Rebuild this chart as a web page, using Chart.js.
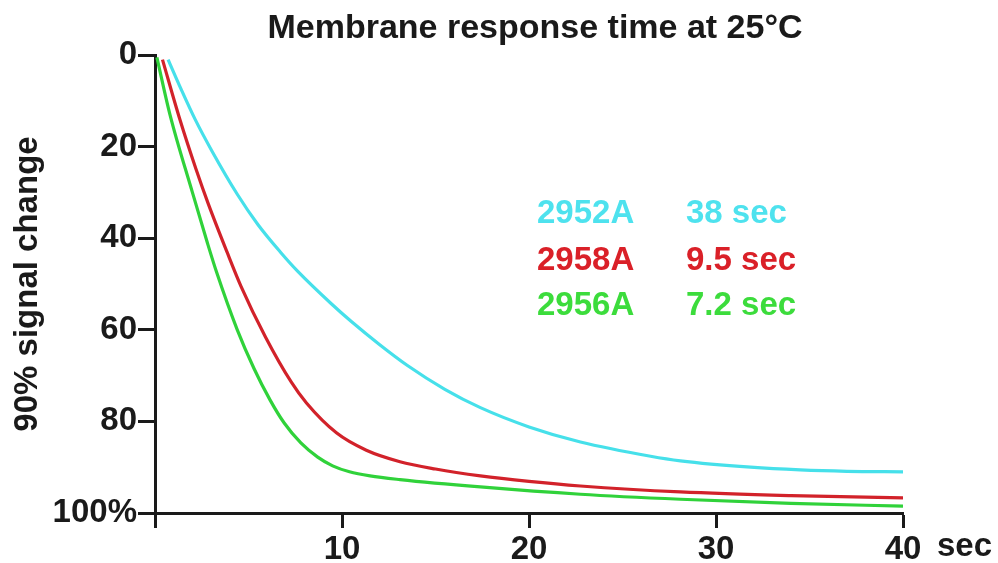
<!DOCTYPE html>
<html>
<head>
<meta charset="utf-8">
<script src="https://cdn.jsdelivr.net/npm/chart.js@4.4.1/dist/chart.umd.min.js"></script>
<style>
  html, body { margin: 0; padding: 0; background: #ffffff; }
  #wrap { width: 998px; height: 563px; }
</style>
</head>
<body>
<div id="wrap"><canvas id="c" width="998" height="563"></canvas></div>
<script>
// ---- data ----
const seriesNames = ['2952A', '2958A', '2956A'];
const responseTimes = ['38 sec', '9.5 sec', '7.2 sec'];

const t2952A = [0.7, 1.4, 2.14, 3.05, 4.4, 5.5, 6.7, 7.65, 9.4, 10.5, 12.0, 13.5, 15.5, 17.4, 20, 22.75, 26.5, 28.1, 31.85, 34.5, 37, 40];
const v2952A = [1, 7.5, 14, 21, 30.4, 37, 43, 47.3, 54.2, 58.2, 63.2, 67.8, 73, 77, 81.2, 84.5, 87.6, 88.6, 90, 90.6, 90.9, 91];

const t2958A = [0.4, 1.34, 2.2, 2.85, 3.85, 4.6, 5.9, 7.3, 8.1, 9.7, 11.3, 13.1, 15, 17.4, 20, 22.75, 28.1, 34, 40];
const v2958A = [1, 14.2, 25, 32.5, 43, 50.5, 61.5, 71.5, 76, 82.5, 86.3, 88.8, 90.4, 91.9, 93.1, 94.1, 95.4, 96.2, 96.7];

const t2956A = [0.1, 0.8, 2.0, 2.8, 3.3, 4.4, 5.3, 6.15, 6.9, 7.8, 8.7, 9.5, 10.4, 11.5, 13.1, 17.4, 22.75, 28.1, 34, 40];
const v2956A = [0.5, 13, 30, 41, 47.5, 60, 68.5, 75.3, 80.3, 84.7, 87.8, 89.7, 91, 91.9, 92.7, 94.3, 95.9, 97, 97.9, 98.5];

const xTickValues = [0, 10, 20, 30, 40];
const yTickValues = [0, 20, 40, 60, 80, 100];
const yTickLabels = ['0', '20', '40', '60', '80', '100%'];
const xUnitLabel = 'sec';

// ---- styles ----
const lineColors = ['#46E0EA', '#D2222A', '#30D23A'];
const textColors = ['#4EE2EE', '#DA2028', '#3CDC3C'];
const FONT = '"Liberation Sans", Arial, Helvetica, sans-serif';

function pts(t, v) { return t.map((x, i) => ({ x: x, y: v[i] })); }
const seriesData = [pts(t2952A, v2952A), pts(t2958A, v2958A), pts(t2956A, v2956A)];

const overlay = {
  id: 'overlay',
  afterDraw(chart) {
    const ctx = chart.ctx;
    const xs = chart.scales.x;
    ctx.save();
    // title
    ctx.fillStyle = '#1a1a1a';
    ctx.font = 'bold 34px ' + FONT;
    ctx.textAlign = 'center';
    ctx.textBaseline = 'alphabetic';
    ctx.fillText('Membrane response time at 25\u00B0C', 535, 38);
    // legend text
    ctx.font = 'bold 33px ' + FONT;
    ctx.textAlign = 'left';
    const baselines = [223, 270, 315];
    for (let i = 0; i < seriesNames.length; i++) {
      ctx.fillStyle = textColors[i];
      ctx.fillText(seriesNames[i], 537, baselines[i]);
      ctx.fillText(responseTimes[i], 686, baselines[i]);
    }
    // unit label after the last x tick
    ctx.fillStyle = '#1a1a1a';
    ctx.font = 'bold 33px ' + FONT;
    ctx.textAlign = 'left';
    ctx.textBaseline = 'top';
    const x40 = xs.getPixelForValue(40);
    ctx.fillText(xUnitLabel, x40 + 34, xs.top + 15 + 2);
    ctx.restore();
  }
};

new Chart(document.getElementById('c'), {
  type: 'line',
  data: {
    datasets: seriesData.map((d, i) => ({
      label: seriesNames[i],
      data: d,
      borderColor: lineColors[i],
      backgroundColor: lineColors[i],
      borderWidth: 3.2,
      pointRadius: 0,
      fill: false,
      cubicInterpolationMode: 'monotone'
    }))
  },
  options: {
    responsive: false,
    animation: false,
    devicePixelRatio: 1,
    layout: { padding: { top: 55, right: 95, bottom: 0, left: 0 } },
    plugins: {
      legend: { display: false },
      title: { display: false },
      tooltip: { enabled: false }
    },
    scales: {
      x: {
        type: 'linear',
        min: 0,
        max: 40,
        afterFit(scale) { scale.height = 50; },
        afterBuildTicks(scale) { scale.ticks = xTickValues.map(v => ({ value: v })); },
        ticks: {
          color: '#1a1a1a',
          font: { family: FONT, size: 33, weight: 'bold' },
          padding: 2,
          maxRotation: 0,
          autoSkip: false,
          callback: (v) => (v === 0 ? '' : String(v))
        },
        grid: {
          display: true,
          drawOnChartArea: false,
          drawTicks: true,
          tickLength: 15,
          tickWidth: 3,
          color: '#1a1a1a'
        },
        border: { display: true, color: '#1a1a1a', width: 3 }
      },
      y: {
        type: 'linear',
        reverse: true,
        min: 0,
        max: 100,
        afterFit(scale) { scale.width = 155; },
        afterBuildTicks(scale) { scale.ticks = yTickValues.map(v => ({ value: v })); },
        ticks: {
          color: '#1a1a1a',
          font: { family: FONT, size: 33, weight: 'bold' },
          padding: 1,
          autoSkip: false,
          callback: (v) => yTickLabels[yTickValues.indexOf(v)]
        },
        title: {
          display: true,
          text: '90% signal change',
          color: '#1a1a1a',
          font: { family: FONT, size: 33, weight: 'bold' },
          padding: { top: 8, bottom: 0 }
        },
        grid: {
          display: true,
          drawOnChartArea: false,
          drawTicks: true,
          tickLength: 17,
          tickWidth: 3,
          color: '#1a1a1a'
        },
        border: { display: true, color: '#1a1a1a', width: 3 }
      }
    }
  },
  plugins: [overlay]
});
</script>
</body>
</html>
